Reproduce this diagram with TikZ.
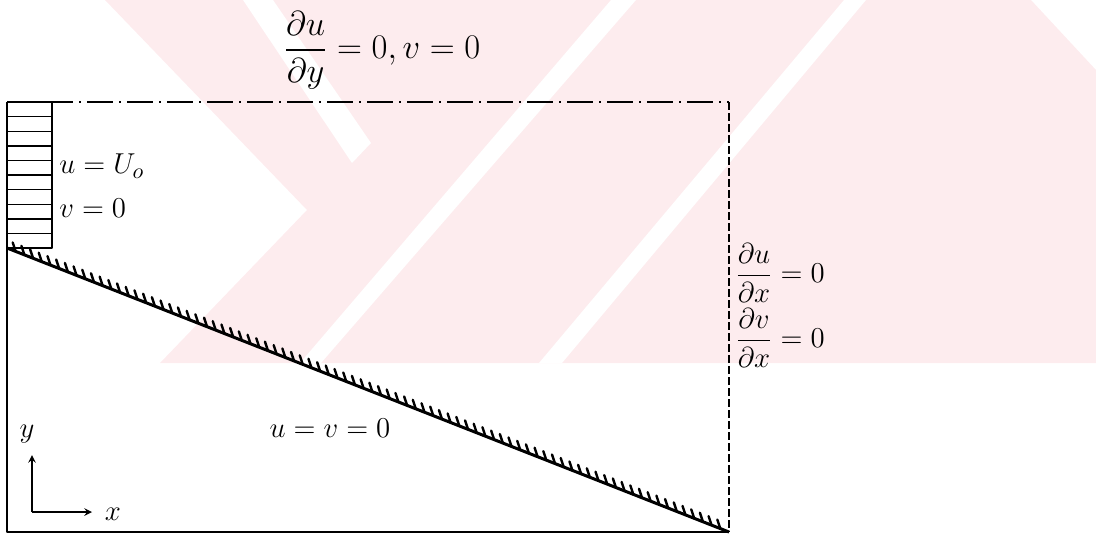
\documentclass[tikz,border=0pt]{standalone}
\usepackage{amsmath}
\usetikzlibrary{calc}
\definecolor{wmpink}{RGB}{253,236,238}
\tikzset{
  wall/.style={line width=1.5pt, black},
  hatchmark/.style={line width=1.2pt, line cap=round},
  boundary/.style={line width=0.7pt},
  label/.style={font=\fontsize{15.5}{18}\selectfont, inner sep=1pt},
  labelbig/.style={font=\fontsize{18}{21}\selectfont, inner sep=1pt},
  labelsmall/.style={font=\fontsize{14}{16}\selectfont, inner sep=1pt}
}
\begin{document}
\begin{tikzpicture}[x=0.5pt, y=-0.5pt, >=stealth, line join=round]
    \useasboundingbox (0,0) rectangle (1096,536);

    % ------------------------------------------------------------------
    % 1. Watermark in the background
    % ------------------------------------------------------------------
    \fill[wmpink] (105,0) -- (1031,0) -- (1096,70) -- (1096,363)
        -- (160,363) -- (307,210) -- cycle;
    \fill[white] (243,0) -- (273,0) -- (371,143) -- (352,163) -- cycle;
    \fill[white] (300,363) -- (321,363) -- (636,0) -- (611,0) -- cycle;
    \fill[white] (539,363) -- (562,363) -- (866,0) -- (844,0) -- cycle;

    % ------------------------------------------------------------------
    % 2. Corners of the domain and start of the inclined wall
    % ------------------------------------------------------------------
    \coordinate (nw) at (7,102);
    \coordinate (ne) at (729,102);
    \coordinate (se) at (729,532);
    \coordinate (sw) at (7,532);
    \coordinate (ws) at (7,248);
    \coordinate (pn) at (52,102);
    \coordinate (ps) at (52,248);

    % ------------------------------------------------------------------
    % 3. Boundaries: symmetry line on top, outlet on the right
    % ------------------------------------------------------------------
    \draw[boundary, dash pattern=on 13pt off 3pt on 1pt off 3pt] (nw) -- (ne);
    \draw[boundary, dash pattern=on 4pt off 1.5pt] (ne) -- (se);
    \draw[boundary] (se) -- (sw) -- (nw);

    % ------------------------------------------------------------------
    % 4. Uniform inlet profile
    % ------------------------------------------------------------------
    \draw[boundary] (pn) -- (ps) -- (ws);
    \foreach \k in {0,...,10}
        \draw[boundary] ($(nw)!{\k/10}!(ws)$) -- ($(pn)!{\k/10}!(ps)$);

    % ------------------------------------------------------------------
    % 5. Inclined wall with hatching
    % ------------------------------------------------------------------
    \draw[wall] (ws) -- (se);
    \foreach \i in {1,...,82}
        \draw[hatchmark] ($(ws)!{\i/83}!(se)$) -- ++(-3,-9);

    % ------------------------------------------------------------------
    % 6. Boundary conditions
    % ------------------------------------------------------------------
    \node[labelbig] (top) at (382,50)
        {$\dfrac{\partial u}{\partial y}=0, v=0$};
    \node[label, anchor=west] (inu) at (57,166) {$u=U_o$};
    \node[label, anchor=west] (inv) at (57,208) {$v=0$};
    \node[labelsmall, anchor=west] (outu) at (733,273)
        {$\dfrac{\partial u}{\partial x}=0$};
    \node[labelsmall, anchor=west] (outv) at (733,338)
        {$\dfrac{\partial v}{\partial x}=0$};
    \node[label] (wallbc) at (330,428) {$u=v=0$};

    % ------------------------------------------------------------------
    % 7. Coordinate axes
    % ------------------------------------------------------------------
    \coordinate (o) at (32,512);
    \coordinate (ytip) at (32,455);
    \coordinate (xtip) at (92,512);
    \draw[->, boundary] (o) -- (ytip);
    \draw[->, boundary] (o) -- (xtip);
    \node[label] (ylab) at (27,434) {$y$};
    \node[label] (xlab) at (113,514) {$x$};

\end{tikzpicture}
\end{document}
